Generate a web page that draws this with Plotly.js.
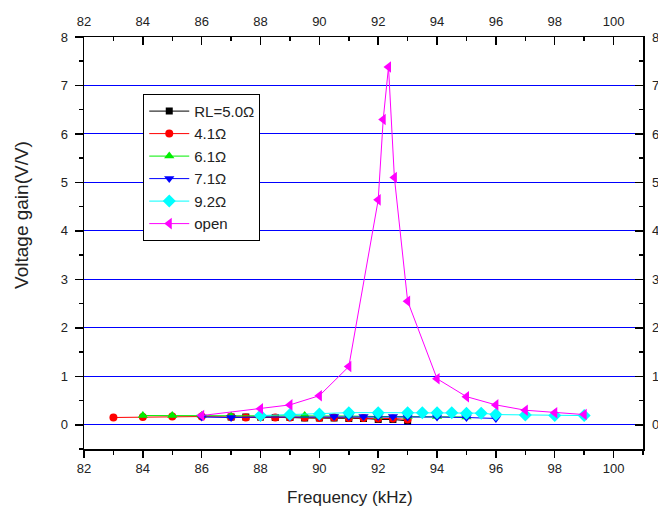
<!DOCTYPE html>
<html>
<head>
<meta charset="utf-8">
<script src="https://cdn.plot.ly/plotly-3.0.1.min.js"></script>
<style>html,body{margin:0;padding:0;background:#fff;}#chart{width:658px;height:512px;}</style>
</head>
<body>
<div id="chart"></div>
<script>
var seriesNames = ['RL=5.0Ω', '4.1Ω', '6.1Ω', '7.1Ω', '9.2Ω', 'open'];
var xTitle = 'Frequency (kHz)';
var yTitle = 'Voltage gain(V/V)';

var x50 = [87, 87.5, 88, 88.5, 89, 89.5, 90, 90.5, 91, 91.5, 92, 92.5, 93];
var y50 = [0.16, 0.16, 0.16, 0.15, 0.15, 0.14, 0.14, 0.14, 0.13, 0.13, 0.11, 0.11, 0.08];

var x41 = [83, 84, 85, 86, 87, 87.5, 88, 88.5, 89, 89.5, 90, 90.5, 91, 91.5, 92, 92.5, 93];
var y41 = [0.15, 0.16, 0.17, 0.17, 0.16, 0.15, 0.16, 0.15, 0.15, 0.15, 0.14, 0.15, 0.14, 0.14, 0.13, 0.13, 0.11];

var x61 = [84, 85, 86, 87, 88, 89, 89.5, 90, 91, 92, 93, 94, 95];
var y61 = [0.19, 0.19, 0.19, 0.18, 0.18, 0.18, 0.19, 0.18, 0.18, 0.17, 0.17, 0.17, 0.16];

var x71 = [86, 87, 88, 89, 90, 90.5, 91, 91.5, 92, 92.5, 93, 94, 95, 96];
var y71 = [0.16, 0.15, 0.16, 0.16, 0.17, 0.17, 0.17, 0.17, 0.17, 0.17, 0.16, 0.16, 0.15, 0.13];

var x92 = [88, 89, 90, 91, 92, 93, 93.5, 94, 94.5, 95, 95.5, 96, 97, 98, 99];
var y92 = [0.19, 0.21, 0.22, 0.25, 0.25, 0.25, 0.25, 0.25, 0.25, 0.24, 0.24, 0.21, 0.2, 0.19, 0.19];

var xOpen = [86, 88, 89, 90, 91, 92, 92.17, 92.35, 92.55, 93, 94, 95, 96, 97, 98, 99];
var yOpen = [0.19, 0.33, 0.41, 0.6, 1.2, 4.64, 6.3, 7.38, 5.1, 2.55, 0.95, 0.58, 0.41, 0.3, 0.25, 0.21];

var xTicks = [82, 84, 86, 88, 90, 92, 94, 96, 98, 100];
var yTicks = [0, 1, 2, 3, 4, 5, 6, 7, 8];

function tr(x, y, name, color, symbol, size) {
  return {
    x: x, y: y, name: name, type: 'scatter', mode: 'lines+markers',
    line: {color: color, width: 1},
    marker: {color: color, symbol: symbol, size: size, line: {width: 0}}
  };
}

var data = [
  tr(x50, y50, seriesNames[0], '#000000', 'square', 7),
  tr(x41, y41, seriesNames[1], '#ff0000', 'circle', 8),
  tr(x61, y61, seriesNames[2], '#00ee00', 'triangle-up', 9),
  tr(x71, y71, seriesNames[3], '#0000ff', 'triangle-down', 9),
  tr(x92, y92, seriesNames[4], '#00ffff', 'diamond', 10),
  tr(xOpen, yOpen, seriesNames[5], '#ff00ff', 'triangle-left', 10),
  {x: [xTicks[0]], y: [yTicks[0]], xaxis: 'x2', yaxis: 'y2', type: 'scatter', mode: 'markers',
   marker: {opacity: 0}, showlegend: false, hoverinfo: 'skip'}
];

var fam = 'Liberation Sans, Arial, sans-serif';
var tickFont = {family: fam, size: 13, color: '#222'};

var layout = {
  width: 658, height: 512,
  margin: {l: 84, r: 15, t: 37, b: 63},
  paper_bgcolor: '#fff', plot_bgcolor: '#fff',
  font: {family: fam, size: 13, color: '#000'},
  showlegend: true,
  legend: {
    x: 0.106, y: 0.862, xanchor: 'left', yanchor: 'top',
    bgcolor: '#fff', bordercolor: '#000', borderwidth: 1,
    font: {family: fam, size: 15, color: '#222'},
    tracegroupgap: 0, itemwidth: 40
  },
  annotations: [
    {text: xTitle, xref: 'paper', yref: 'paper', x: 0.475, y: -0.118, xanchor: 'center', yanchor: 'middle',
     showarrow: false, font: {family: fam, size: 17, color: '#222'}},
    {text: yTitle, xref: 'paper', yref: 'paper', x: -0.111, y: 0.568, xanchor: 'center', yanchor: 'middle',
     textangle: -90, showarrow: false, font: {family: fam, size: 19, color: '#222'}}
  ],
  xaxis: {
    range: [82, 101], tickvals: xTicks, ticktext: xTicks.map(String),
    ticks: 'outside', ticklen: 7, tickwidth: 1.5, tickcolor: '#000',
    minor: {dtick: 1, ticks: 'outside', ticklen: 4, tickwidth: 1.5, tickcolor: '#000', showgrid: false},
    showline: true, linecolor: '#000', linewidth: 1.5,
    showgrid: false, zeroline: false, tickfont: tickFont
  },
  yaxis: {
    range: [-0.5, 8], tickvals: yTicks, ticktext: yTicks.map(String),
    ticks: 'outside', ticklen: 8, tickwidth: 1.5, tickcolor: '#000',
    minor: {dtick: 0.5, ticks: 'outside', ticklen: 4, tickwidth: 1.5, tickcolor: '#000', showgrid: false},
    showline: true, linecolor: '#000', linewidth: 1.5,
    showgrid: true, gridcolor: '#0000ff', gridwidth: 1,
    zeroline: true, zerolinecolor: '#0000ff', zerolinewidth: 1,
    tickfont: tickFont, ticklabelstandoff: 4
  },
  xaxis2: {
    overlaying: 'x', side: 'top', anchor: 'y2', range: [82, 101],
    tickvals: xTicks, ticktext: xTicks.map(String),
    ticks: 'inside', ticklen: 8, tickwidth: 1.5, tickcolor: '#000',
    minor: {dtick: 1, ticks: 'inside', ticklen: 4, tickwidth: 1.5, tickcolor: '#000', showgrid: false},
    showline: true, linecolor: '#000', linewidth: 1.5,
    showgrid: false, zeroline: false, tickfont: tickFont, ticklabelstandoff: 4
  },
  yaxis2: {
    overlaying: 'y', side: 'right', anchor: 'x2', range: [-0.5, 8],
    tickvals: yTicks, ticktext: yTicks.map(String),
    ticks: 'inside', ticklen: 8, tickwidth: 1.5, tickcolor: '#000',
    minor: {dtick: 0.5, ticks: 'inside', ticklen: 4, tickwidth: 1.5, tickcolor: '#000', showgrid: false},
    showline: true, linecolor: '#000', linewidth: 1.5,
    showgrid: false, zeroline: false,
    tickfont: tickFont, ticklabelstandoff: 5
  }
};

Plotly.newPlot('chart', data, layout, {displayModeBar: false, staticPlot: true});
</script>
</body>
</html>
